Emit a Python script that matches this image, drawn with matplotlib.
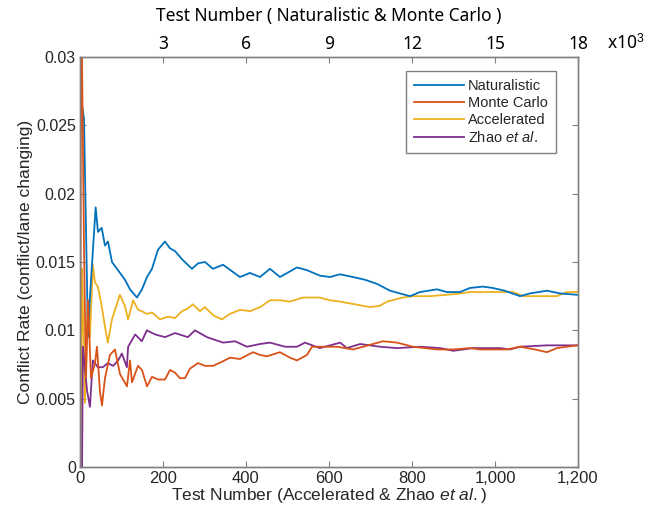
import numpy as np
import matplotlib
matplotlib.use('Agg')
import matplotlib.pyplot as plt
from matplotlib.ticker import FixedLocator, FuncFormatter

plt.rcParams['font.family'] = ['Liberation Sans', 'DejaVu Sans']
plt.rcParams['mathtext.fontset'] = 'custom'
plt.rcParams['mathtext.rm'] = 'Liberation Sans'
plt.rcParams['mathtext.it'] = 'Liberation Sans:italic'

# Naturalistic (top axis, test number)
nat_x = [72, 145, 289, 361, 567, 650, 784, 903, 1012, 1157, 1265, 1446, 1626, 1807,
         2060, 2241, 2422, 2602, 2819, 3072, 3253, 3434, 3687, 4048, 4265, 4518,
         4807, 5168, 5782, 6144, 6505, 6867, 7228, 7843, 8204, 8674, 9036, 9397,
         9867, 10301, 10735, 11205, 11566, 11928, 12289, 12904, 13265, 13735,
         14096, 14554, 14916, 15349, 15904, 16265, 16878, 17348, 17961]
nat_y = [0.0265, 0.0255, 0.0095, 0.0125, 0.019, 0.0172, 0.0175, 0.0162, 0.0165, 0.015,
         0.0147, 0.0142, 0.0137, 0.013, 0.0124, 0.013, 0.0139, 0.0145, 0.0159, 0.0165,
         0.016, 0.0158, 0.0152, 0.0145, 0.0149, 0.015, 0.0145, 0.0148, 0.0139, 0.0142,
         0.0139, 0.0145, 0.0139, 0.0146, 0.0144, 0.0140, 0.0139, 0.0141, 0.0139,
         0.0137, 0.0134, 0.0129, 0.0127, 0.0125, 0.0128, 0.013, 0.0128, 0.0128,
         0.0131, 0.0132, 0.0131, 0.0129, 0.0125, 0.0127, 0.0129, 0.0127, 0.0126]

# Monte Carlo (top axis, test number)
mc_x = [0, 36, 72, 145, 217, 289, 398, 542, 614, 723, 795, 903, 1084, 1265, 1446,
        1699, 1807, 1879, 2096, 2241, 2422, 2602, 2819, 3072, 3253, 3434, 3614,
        3795, 3976, 4265, 4518, 4807, 5132, 5421, 5782, 6252, 6505, 6758, 7228,
        7590, 7843, 8204, 8385, 8674, 9289, 9867, 10229, 10952, 11458, 12036,
        12904, 13482, 14096, 14458, 15431, 15904, 16446, 16878, 17239, 17961]
mc_y = [0.0, 0.0305, 0.030, 0.016, 0.0065, 0.0122, 0.0065, 0.0076, 0.0088, 0.0055,
        0.0045, 0.0065, 0.0082, 0.0086, 0.0068, 0.0059, 0.0078, 0.0062, 0.0074,
        0.0071, 0.0059, 0.0066, 0.0064, 0.0064, 0.0071, 0.0069, 0.0065, 0.0065,
        0.0072, 0.0076, 0.0074, 0.0074, 0.0077, 0.008, 0.0079, 0.0084, 0.0082,
        0.0081, 0.0084, 0.008, 0.0078, 0.0082, 0.0088, 0.0088, 0.0088, 0.0086,
        0.0088, 0.0092, 0.0091, 0.0088, 0.0086, 0.0086, 0.0087, 0.0086, 0.0086,
        0.0088, 0.0086, 0.0084, 0.0087, 0.0089]

# Accelerated (bottom axis, test number)
acc_x = [1, 5, 12, 19, 24, 31, 36, 43, 51, 60, 67, 77, 92, 96, 108, 116, 128, 140,
         149, 161, 174, 193, 212, 229, 246, 260, 272, 289, 301, 321, 342, 361, 386,
         410, 434, 458, 482, 506, 537, 578, 602, 627, 663, 699, 723, 740, 778, 803,
         843, 884, 916, 940, 964, 1012, 1044, 1068, 1108, 1149, 1173, 1198]
acc_y = [0.0, 0.0145, 0.0047, 0.012, 0.0095, 0.0148, 0.0135, 0.0132, 0.012, 0.0103,
         0.0091, 0.0108, 0.0122, 0.0126, 0.0118, 0.0108, 0.0122, 0.0115, 0.0114,
         0.0112, 0.0113, 0.0108, 0.011, 0.0109, 0.0114, 0.0116, 0.0119, 0.0114,
         0.0117, 0.0111, 0.0108, 0.0112, 0.0115, 0.0114, 0.0117, 0.0122, 0.0122,
         0.0121, 0.0124, 0.0124, 0.0122, 0.0121, 0.0119, 0.0117, 0.0118, 0.0121,
         0.0124, 0.0125, 0.0125, 0.0126, 0.0127, 0.0128, 0.0128, 0.0128, 0.0128,
         0.0125, 0.0125, 0.0125, 0.0128, 0.0128]

# Zhao et al. (bottom axis, test number)
zhao_x = [5, 7, 17, 24, 31, 43, 55, 67, 80, 92, 101, 113, 116, 133, 149, 161, 181,
          205, 229, 260, 277, 306, 345, 374, 402, 434, 458, 494, 523, 542, 578, 627,
          643, 675, 723, 764, 819, 868, 899, 947, 1012, 1036, 1060, 1125, 1198]
zhao_y = [0.0, 0.0088, 0.0056, 0.0044, 0.0078, 0.0073, 0.0073, 0.0076, 0.0074,
          0.0078, 0.0083, 0.0073, 0.0088, 0.0097, 0.0092, 0.01, 0.0097, 0.0095,
          0.0098, 0.0095, 0.01, 0.0095, 0.0091, 0.0092, 0.0088, 0.009, 0.0091,
          0.0088, 0.0088, 0.0091, 0.0087, 0.0091, 0.0087, 0.009, 0.0088, 0.0087,
          0.0088, 0.0087, 0.0085, 0.0087, 0.0087, 0.0086, 0.0088, 0.0089, 0.0089]

yticks = [0, 0.005, 0.01, 0.015, 0.02, 0.025, 0.03]
ytick_labels = ['0', '0.005', '0.01', '0.015', '0.02', '0.025', '0.03']
bottom_ticks = [0, 200, 400, 600, 800, 1000, 1200]
top_ticks = [3000, 6000, 9000, 12000, 15000, 18000]

c_nat = '#0072BD'
c_mc = '#D95319'
c_acc = '#EDB120'
c_zhao = '#7E2F8E'
axis_gray = '#808080'
label_gray = '#262626'

fig = plt.figure(figsize=(6.54, 5.11), dpi=100)
ax = fig.add_axes([0.1223, 0.0861, 0.7615, 0.8024])

l_acc, = ax.plot(acc_x, acc_y, color=c_acc, lw=1.3)
l_zhao, = ax.plot(zhao_x, zhao_y, color=c_zhao, lw=1.3)
ax.set_xlim(0, 1200)
ax.set_ylim(0, 0.03)
ax.set_yticks(yticks)
ax.set_yticklabels(ytick_labels)
ax.xaxis.set_major_locator(FixedLocator(bottom_ticks))
ax.xaxis.set_major_formatter(FuncFormatter(lambda v, p: f"{int(v):,}"))
ax.tick_params(direction='in', length=4, color=axis_gray, labelcolor=label_gray,
               labelsize=12, right=True, top=False, pad=3)
ax.tick_params(axis='y', labelsize=11.5)
for s in ax.spines.values():
    s.set_color(axis_gray)
    s.set_linewidth(1.0)
ax.set_xlabel(r'Test Number (Accelerated & Zhao $\it{et\ al.}$)', fontsize=12.5,
              color=label_gray, labelpad=0)
ax.set_ylabel('Conflict Rate (conflict/lane changing)', fontsize=12.5,
              color=label_gray, labelpad=2)

ax2 = ax.twiny()
l_nat, = ax2.plot(nat_x, nat_y, color=c_nat, lw=1.3)
l_mc, = ax2.plot(mc_x, mc_y, color=c_mc, lw=1.3)
ax2.set_xlim(0, 18000)
ax2.set_ylim(0, 0.03)
ax2.xaxis.set_major_locator(FixedLocator(top_ticks))
ax2.xaxis.set_major_formatter(FuncFormatter(lambda v, p: f"{int(v / 1000)}"))
ax2.tick_params(axis='x', direction='in', length=4, color=axis_gray, labelcolor='black',
                labelsize=12.5, pad=3)
for lab in ax2.get_xticklabels():
    lab.set_family('Noto Sans')
for s in ax2.spines.values():
    s.set_color(axis_gray)
    s.set_linewidth(1.0)
ax2.set_xlabel('Test Number ( Naturalistic & Monte Carlo )', fontsize=12.5,
               family='Noto Sans', fontweight='medium', labelpad=10)
ax2.text(1.058, 1.012, r'x10$^3$', transform=ax2.transAxes, fontsize=12.5,
         family='Noto Sans', va='bottom', ha='left')

leg = ax2.legend([l_nat, l_mc, l_acc, l_zhao],
                 ['Naturalistic', 'Monte Carlo', 'Accelerated', r'Zhao $\it{et\ al.}$'],
                 loc='upper right', bbox_to_anchor=(0.956, 0.965), fontsize=10.5,
                 fancybox=False, framealpha=1, edgecolor=axis_gray,
                 handlelength=3.4, handletextpad=0.3, labelspacing=0.2,
                 borderpad=0.55, borderaxespad=0)
leg.get_frame().set_linewidth(1.0)
for t in leg.get_texts():
    t.set_color(label_gray)

fig.savefig('out.png', dpi=100)
